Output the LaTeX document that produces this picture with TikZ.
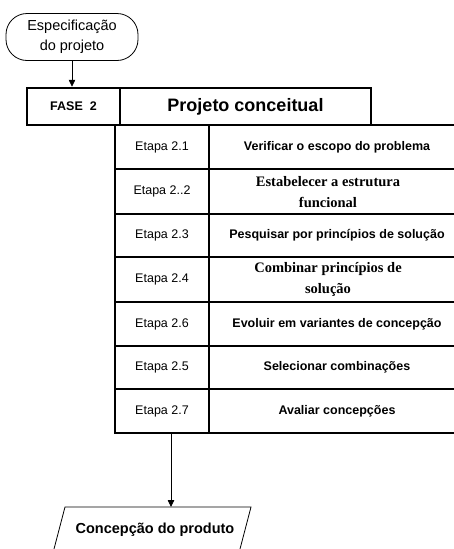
\documentclass[tikz,border=0pt]{standalone}
\usepackage{fontspec}
\setmainfont{Liberation Sans}
\newfontfamily\timesf{Liberation Serif}
\usetikzlibrary{arrows.meta}
\begin{document}
\begin{tikzpicture}[x=1pt,y=-1pt,
  thickline/.style={line width=2.5pt, line join=miter},
  thinline/.style={line width=0.8pt},
  arr/.style={thinline, -{Triangle[length=7pt,width=6.5pt]}},
  etapa/.style={inner sep=0pt, font=\fontsize{12.5}{14}\selectfont},
  task/.style={inner sep=0pt, font=\fontsize{12.5}{14}\selectfont\bfseries},
  taskserif/.style={inner sep=0pt, align=center, font=\fontsize{14.5}{21}\selectfont\timesf\bfseries},
  phase/.style={draw, thickline, inner sep=0pt, minimum height=37pt}
]
\useasboundingbox (0,0) rectangle (454,549);

% start terminal
\node[draw, thinline, rounded corners=21pt, minimum width=132pt, minimum height=47pt,
      inner sep=0pt, align=center, font=\fontsize{14.5}{20}\selectfont] (spec) at (72,37) {Especificação\\do projeto};

% phase header
\node[phase, minimum width=93pt, font=\fontsize{12.5}{14}\selectfont\bfseries] (fase) at (73.5,106.5) {FASE\ \ 2};
\node[phase, minimum width=251pt, font=\fontsize{18}{20}\selectfont\bfseries] (proj) at (245.5,106.5) {Projeto conceitual};

% table grid
\draw[thickline] (115,125) -- (115,433) -- (454,433);
\draw[thickline] (209,125) -- (209,433);
\draw[thickline] (115,125) -- (454,125);
\foreach \yy in {169,214,257,302,346,389} {
  \draw[thickline] (115,\yy) -- (454,\yy);
}

% step cells
\node[etapa] (e1) at (162,147) {Etapa 2.1};
\node[etapa] (e2) at (162,191.5) {Etapa 2..2};
\node[etapa] (e3) at (162,235.5) {Etapa 2.3};
\node[etapa] (e4) at (162,279.5) {Etapa 2.4};
\node[etapa] (e5) at (162,324) {Etapa 2.6};
\node[etapa] (e6) at (162,367.5) {Etapa 2.5};
\node[etapa] (e7) at (162,411) {Etapa 2.7};

\node[task] (t1) at (337,147) {Verificar o escopo do problema};
\node[taskserif] (t2) at (328,192) {Estabelecer a estrutura\\funcional};
\node[task] (t3) at (337,235.5) {Pesquisar por princípios de solução};
\node[taskserif] (t4) at (328,279.5) {Combinar princípios de\\solução};
\node[task] (t5) at (337,324) {Evoluir em variantes de concepção};
\node[task] (t6) at (337,367.5) {Selecionar combinações};
\node[task] (t7) at (337,411) {Avaliar concepções};

% output
\draw[thinline] (54,549) -- (65,507) -- (251,507) -- (240,549);
\node[inner sep=0pt, font=\fontsize{14.5}{16}\selectfont\bfseries] (out) at (155,530) {Concepção do produto};
\coordinate (tabout) at (171,433);
\coordinate (outtop) at (171,507);

% connectors
\draw[arr] (spec.south) -- (spec.south |- fase.north);
\draw[arr] (tabout) -- (outtop);
\end{tikzpicture}
\end{document}
